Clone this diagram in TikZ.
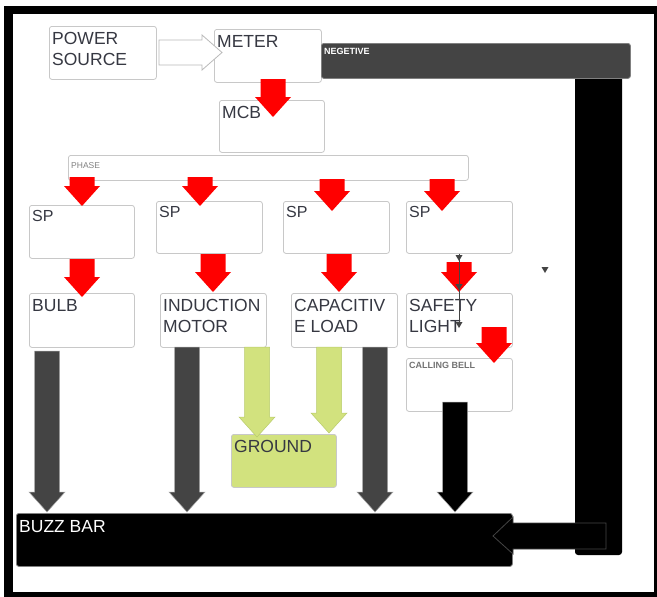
\documentclass[tikz,border=0pt]{standalone}
\usepackage{fontspec}
\setmainfont{Liberation Sans}
\definecolor{boxline}{HTML}{C8C8C8}
\definecolor{txt}{HTML}{363842}
\definecolor{wire}{HTML}{444444}
\definecolor{earth}{HTML}{D2E27E}
\definecolor{earthline}{HTML}{B9CC6C}
\definecolor{live}{HTML}{FF0000}

\begin{document}
\begin{tikzpicture}[x=1pt, y=-1pt,
    box/.style={draw=boxline, line width=0.8pt, rounded corners=2.5pt, fill=white,
        anchor=north west, inner sep=0pt},
    big/.style={anchor=north west, inner sep=0pt, align=left, text=txt,
        font=\fontsize{17.5}{21}\selectfont, xshift=3pt, yshift=-6pt},
    small/.style={anchor=north west, inner sep=0pt, text=gray,
        font=\fontsize{9}{10}\selectfont\bfseries, xshift=3pt, yshift=-5pt}
]
    \useasboundingbox (0,0) rectangle (657,597);
    % heavy outer frame
    \fill[black] (4,6) rectangle (657,597);
    \fill[white] (13,14) rectangle (654,592);

    % supply side
    \node[box, minimum width=107pt, minimum height=53pt,
        label={[big]north west:POWER\\SOURCE}] (power) at (49,26) {};
    \node[box, minimum width=107pt, minimum height=53pt,
        label={[big]north west:METER}] (meter) at (214,29) {};
    \node[box, minimum width=105pt, minimum height=52pt,
        label={[big]north west:MCB}] (mcb) at (219,100) {};
    \node[box, minimum width=400pt, minimum height=25pt,
        label={[small, font=\fontsize{8.5}{10}\selectfont, yshift=-2pt]north west:PHASE}] (phase) at (68,155) {};

    % switches
    \node[box, minimum width=105pt, minimum height=53pt,
        label={[big, font=\fontsize{16}{19}\selectfont, yshift=1pt]north west:SP}] (sp1) at (29,205) {};
    \node[box, minimum width=106pt, minimum height=52pt,
        label={[big, font=\fontsize{16}{19}\selectfont, yshift=1pt]north west:SP}] (sp2) at (156,201) {};
    \node[box, minimum width=106pt, minimum height=52pt,
        label={[big, font=\fontsize{16}{19}\selectfont, yshift=1pt]north west:SP}] (sp3) at (283,201) {};
    \node[box, minimum width=106pt, minimum height=52pt,
        label={[big, font=\fontsize{16}{19}\selectfont, yshift=1pt]north west:SP}] (sp4) at (406,201) {};

    % loads
    \node[box, minimum width=105pt, minimum height=54pt,
        label={[big]north west:BULB}] (bulb) at (29,293) {};
    \node[box, minimum width=106pt, minimum height=54pt,
        label={[big]north west:INDUCTION\\MOTOR}] (motor) at (160,293) {};
    \node[box, minimum width=106pt, minimum height=54pt,
        label={[big]north west:CAPACITIV\\E LOAD}] (capload) at (291,293) {};
    \node[box, minimum width=106pt, minimum height=54pt,
        label={[big]north west:SAFETY\\LIGHT}] (safety) at (406,293) {};
    \node[box, minimum width=106pt, minimum height=53pt,
        label={[small, text=gray!90!black, yshift=1pt]north west:CALLING BELL}] (bell) at (406,358) {};
    \node[box, fill=earth, minimum width=105pt, minimum height=53pt,
        label={[big]north west:GROUND}] (ground) at (231,434) {};

    % return path
    \fill[black, rounded corners=3pt] (575,70) rectangle (622,555);
    \node[box, fill=wire, draw=gray, minimum width=309pt, minimum height=35pt,
        label={[small, text=white]north west:NEGETIVE}] (neg) at (321,43) {};
    \node[box, fill=black, draw=gray, minimum width=496pt, minimum height=53pt,
        label={[big, text=white, yshift=-1pt]north west:BUZZ BAR}] (buzz) at (16,513) {};

    % phase feed arrows
    \foreach \x/\ya/\yb in {273/79/117, 82/177/206, 200/177/206, 332/179/211, 442/179/211,
                            82/259/297, 213/254/292, 339/254/292, 459/262/292, 494/327/363}
        \fill[live] (\x-12.5,\ya) -- (\x+12.5,\ya) -- (\x+12.5,\yb-20) -- (\x+18,\yb-20)
            -- (\x,\yb) -- (\x-18,\yb-20) -- (\x-12.5,\yb-20) -- cycle;

    % neutral returns into the bar
    \foreach \x/\ya/\c in {47/351/wire, 187/347/wire, 375/347/wire, 455/402/black}
        \filldraw[fill=\c, draw=gray!70, line width=0.5pt] (\x-12.5,\ya) -- (\x+12.5,\ya)
            -- (\x+12.5,492) -- (\x+18,492) -- (\x,512) -- (\x-18,492) -- (\x-12.5,492) -- cycle;

    % earth leads
    \foreach \x/\ya/\yb in {257/347/437, 329/347/433}
        \filldraw[fill=earth, draw=earthline, line width=0.5pt] (\x-12.5,\ya) -- (\x+12.5,\ya)
            -- (\x+12.5,\yb-20) -- (\x+18,\yb-20) -- (\x,\yb) -- (\x-18,\yb-20) -- (\x-12.5,\yb-20) -- cycle;

    % source into meter
    \filldraw[fill=white, draw=gray!55, line width=0.8pt] (159,40) -- (202,40) -- (202,35)
        -- (222,52.5) -- (202,70) -- (202,65) -- (159,65) -- cycle;

    % negative back into the bar
    \filldraw[fill=black, draw=wire, line width=0.8pt] (606,523) -- (513,523) -- (513,517)
        -- (493,536) -- (513,554) -- (513,549) -- (606,549) -- cycle;

    % thin tap through safety light
    \coordinate (tapA) at (459,254);
    \coordinate (tapB) at (459,327);
    \draw[wire, line width=0.7pt] (tapA) -- (tapB);
    \foreach \x/\y in {459/255, 459/284, 459/322, 545/267}
        \fill[wire] (\x-3.5,\y) -- (\x+3.5,\y) -- (\x,\y+6) -- cycle;
\end{tikzpicture}
\end{document}
